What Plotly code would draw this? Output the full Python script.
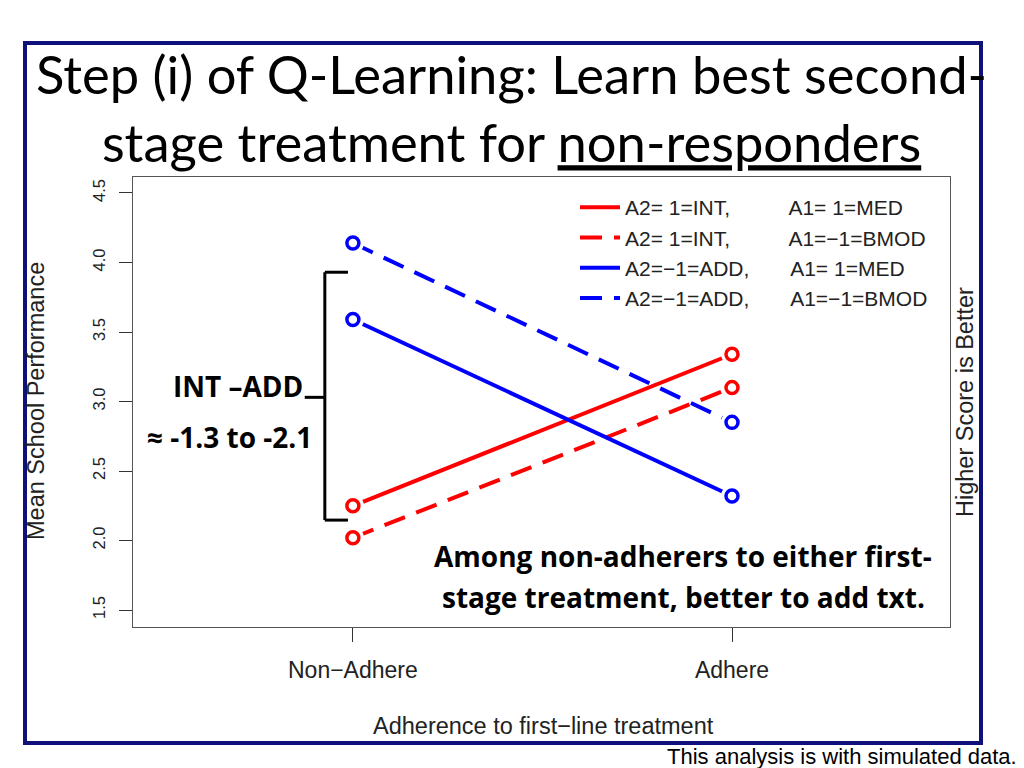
import plotly.graph_objects as go

# ---- data ----
categories = ["Non\u2212Adhere", "Adhere"]
x_pos = [1, 2]
red_med = [2.25, 3.34]     # A2= 1=INT,  A1= 1=MED
red_bmod = [2.02, 3.10]    # A2= 1=INT,  A1=-1=BMOD
blue_med = [3.59, 2.32]    # A2=-1=ADD,  A1= 1=MED
blue_bmod = [4.14, 2.85]   # A2=-1=ADD,  A1=-1=BMOD
y_ticks = [1.5, 2.0, 2.5, 3.0, 3.5, 4.0, 4.5]

NB = "\u00a0"
series = [
    ("A2=" + NB + "1=INT," + NB * 10 + "A1=" + NB + "1=MED", red_med, "#FF0000", "solid"),
    ("A2=" + NB + "1=INT," + NB * 10 + "A1=\u22121=BMOD", red_bmod, "#FF0000", "22px,12px"),
    ("A2=\u22121=ADD," + NB * 7 + "A1=" + NB + "1=MED", blue_med, "#0000FF", "solid"),
    ("A2=\u22121=ADD," + NB * 7 + "A1=\u22121=BMOD", blue_bmod, "#0000FF", "22px,12px"),
]

# ---- layout geometry (page has an 8px body offset) ----
W, H = 1016, 760
L, R, T, B = 125, 74, 169, 141
PW, PH = W - L - R, H - T - B
OFF = 8


def PX(sx):
    return (sx - OFF - L) / PW


def PY(sy):
    return ((H - B) - (sy - OFF)) / PH


fig = go.Figure()
for i, (name, vals, col, dash) in enumerate(series):
    fig.add_trace(go.Scatter(x=x_pos, y=vals, mode="lines", name=name,
                             line=dict(color=col, width=4, dash=dash)))
for i, (name, vals, col, dash) in enumerate(series):
    # white halo (R type="b" gap) then open circle
    fig.add_trace(go.Scatter(x=x_pos, y=vals, mode="markers", showlegend=False,
                             hoverinfo="skip",
                             marker=dict(symbol="circle", size=22, color="white",
                                         line=dict(width=0))))
    fig.add_trace(go.Scatter(x=x_pos, y=vals, mode="markers", showlegend=False,
                             marker=dict(symbol="circle-open", size=12, color=col,
                                         line=dict(width=3.5, color=col))))

SANS = "Liberation Sans, Arial"
tick_font_x = dict(family=SANS, size=23, color="#222")
tick_font_y = dict(family=SANS, size=16.5, color="#222")
lab_font = dict(family=SANS, size=23.5, color="#222")

fig.update_layout(
    width=W, height=H,
    paper_bgcolor="white", plot_bgcolor="white",
    margin=dict(l=L, r=R, t=T, b=B, autoexpand=False),
    showlegend=True,
    legend=dict(x=PX(575), y=PY(187), xanchor="left", yanchor="top",
                font=dict(family=SANS, size=21, color="#222"),
                bgcolor="rgba(0,0,0,0)", itemwidth=40),
    xaxis=dict(range=[0.42, 2.575], tickmode="array", tickvals=x_pos,
               ticktext=categories, ticks="outside", ticklen=14, tickcolor="#333",
               showgrid=False, zeroline=False, showline=True, mirror=True,
               linecolor="#555", linewidth=1.2, tickfont=tick_font_x,
               ticklabelstandoff=8),
    yaxis=dict(range=[1.378, 4.615], tickmode="array", tickvals=y_ticks,
               ticktext=[f"{v:.1f}" for v in y_ticks], tickangle=-90,
               ticks="outside", ticklen=13, tickcolor="#333",
               showgrid=False, zeroline=False, showline=True, mirror=True,
               linecolor="#555", linewidth=1.2, tickfont=tick_font_y,
               ticklabelstandoff=7),
)

# axis titles
fig.add_annotation(xref="paper", yref="paper", x=PX(36), y=PY(401), text="Mean School Performance",
                   textangle=-90, showarrow=False, xanchor="center", yanchor="middle", font=lab_font)
fig.add_annotation(xref="paper", yref="paper", x=PX(543), y=PY(726),
                   text="Adherence to first\u2212line treatment",
                   showarrow=False, xanchor="center", yanchor="middle", font=lab_font)
fig.add_annotation(xref="paper", yref="paper", x=PX(965), y=PY(402), text="Higher Score is Better",
                   textangle=-90, showarrow=False, xanchor="center", yanchor="middle", font=lab_font)

# slide border
fig.add_shape(type="rect", xref="paper", yref="paper",
              x0=PX(25), x1=PX(981), y0=PY(743), y1=PY(43),
              line=dict(color="#10107a", width=4), layer="above")

# bracket
bk = dict(color="black", width=3)
fig.add_shape(type="line", xref="x", yref="y", x0=0.926, x1=0.926, y0=2.147, y1=3.93, line=bk)
fig.add_shape(type="line", xref="x", yref="y", x0=0.926, x1=0.987, y0=3.93, y1=3.93, line=bk)
fig.add_shape(type="line", xref="x", yref="y", x0=0.926, x1=0.987, y0=2.147, y1=2.147, line=bk)
fig.add_shape(type="line", xref="x", yref="y", x0=0.873, x1=0.926, y0=3.03, y1=3.03, line=bk)

bold_font = dict(family="Open Sans", size=28, color="black")
fig.add_annotation(xref="paper", yref="paper", x=PX(238), y=PY(386), text="<b>INT \u2013ADD</b>",
                   showarrow=False, xanchor="center", yanchor="middle", font=bold_font)
fig.add_annotation(xref="paper", yref="paper", x=PX(229), y=PY(437), text="<b>\u2248 -1.3 to -2.1</b>",
                   showarrow=False, xanchor="center", yanchor="middle", font=bold_font)
fig.add_annotation(xref="paper", yref="paper", x=PX(683), y=PY(556),
                   text="<b>Among non-adherers to either first-</b>",
                   showarrow=False, xanchor="center", yanchor="middle", font=bold_font)
fig.add_annotation(xref="paper", yref="paper", x=PX(683), y=PY(597),
                   text="<b>stage treatment, better to add txt.</b>",
                   showarrow=False, xanchor="center", yanchor="middle", font=bold_font)

# title
fig.add_annotation(xref="paper", yref="paper", x=PX(511), y=PY(40),
                   text="Step (i) of Q-Learning: Learn best second-<br>stage treatment for <u>non-responders</u>",
                   showarrow=False, xanchor="center", yanchor="top", align="center",
                   font=dict(family="Lato", size=52.5, color="black"))

# footer
fig.add_annotation(xref="paper", yref="paper", x=PX(1019), y=PY(757),
                   text="This analysis is with simulated data.",
                   showarrow=False, xanchor="right", yanchor="middle",
                   font=dict(family=SANS, size=22, color="black"))

fig.write_html("out.html")
